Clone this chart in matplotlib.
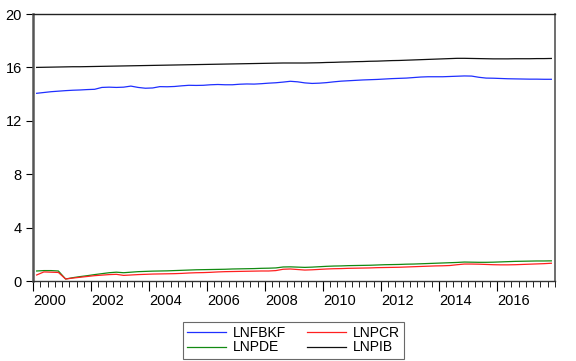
import matplotlib.pyplot as plt
import numpy as np

plt.rcParams['font.family'] = ['Liberation Sans', 'DejaVu Sans']

# quarterly observations, 2000Q1 - 2017Q4
lnpib = [16.00, 16.01, 16.02, 16.03, 16.04, 16.05, 16.05, 16.06,
         16.07, 16.08, 16.09, 16.10, 16.11, 16.12, 16.13, 16.14,
         16.15, 16.16, 16.17, 16.18, 16.19, 16.20, 16.21, 16.22,
         16.23, 16.24, 16.25, 16.26, 16.27, 16.28, 16.29, 16.30,
         16.31, 16.32, 16.33, 16.33, 16.33, 16.33, 16.34, 16.35,
         16.37, 16.38, 16.40, 16.41, 16.43, 16.44, 16.46, 16.47,
         16.49, 16.51, 16.52, 16.54, 16.56, 16.58, 16.60, 16.62,
         16.64, 16.66, 16.68, 16.68, 16.67, 16.66, 16.65, 16.64,
         16.64, 16.64, 16.65, 16.65, 16.65, 16.66, 16.66, 16.67]

lnfbkf = [14.06, 14.12, 14.18, 14.22, 14.26, 14.29, 14.31, 14.34,
          14.36, 14.50, 14.52, 14.50, 14.52, 14.60, 14.50, 14.44,
          14.46, 14.56, 14.55, 14.57, 14.62, 14.66, 14.65, 14.66,
          14.70, 14.72, 14.70, 14.70, 14.74, 14.76, 14.75, 14.78,
          14.82, 14.85, 14.90, 14.96, 14.92, 14.84, 14.80, 14.82,
          14.86, 14.92, 14.97, 15.00, 15.03, 15.06, 15.08, 15.10,
          15.13, 15.16, 15.18, 15.20, 15.24, 15.28, 15.30, 15.30,
          15.30, 15.32, 15.34, 15.36, 15.35, 15.26, 15.20, 15.19,
          15.17, 15.15, 15.14, 15.13, 15.12, 15.12, 15.11, 15.11]

lnpde = [0.75, 0.78, 0.78, 0.75, 0.15, 0.25, 0.33, 0.40,
         0.48, 0.55, 0.62, 0.66, 0.62, 0.66, 0.70, 0.72,
         0.74, 0.75, 0.76, 0.78, 0.80, 0.82, 0.84, 0.85,
         0.86, 0.87, 0.88, 0.90, 0.91, 0.92, 0.93, 0.95,
         0.96, 0.98, 1.05, 1.06, 1.04, 1.02, 1.04, 1.07,
         1.10, 1.12, 1.13, 1.15, 1.16, 1.17, 1.18, 1.20,
         1.22, 1.23, 1.24, 1.26, 1.27, 1.29, 1.31, 1.33,
         1.35, 1.37, 1.39, 1.42, 1.41, 1.40, 1.40, 1.41,
         1.43, 1.45, 1.47, 1.48, 1.49, 1.50, 1.50, 1.51]

lnpcr = [0.45, 0.68, 0.66, 0.64, 0.15, 0.22, 0.28, 0.34,
         0.40, 0.44, 0.48, 0.50, 0.42, 0.45, 0.48, 0.50,
         0.52, 0.53, 0.54, 0.55, 0.57, 0.60, 0.62, 0.63,
         0.65, 0.68, 0.70, 0.71, 0.72, 0.73, 0.74, 0.75,
         0.75, 0.78, 0.88, 0.90, 0.86, 0.82, 0.84, 0.87,
         0.90, 0.92, 0.93, 0.95, 0.96, 0.97, 0.98, 1.00,
         1.01, 1.02, 1.03, 1.05, 1.07, 1.09, 1.11, 1.13,
         1.14, 1.16, 1.22, 1.27, 1.27, 1.26, 1.24, 1.22,
         1.21, 1.21, 1.22, 1.24, 1.26, 1.28, 1.30, 1.33]

# mid-quarter positions
t = 2000 + (np.arange(len(lnpib)) + 0.5) * 0.25

fig = plt.figure(figsize=(5.76, 3.61), dpi=100)
ax = fig.add_axes([0.0573, 0.2216, 0.9062, 0.7396])

ax.plot(t, lnfbkf, color='#1f2fff', lw=0.9, label='LNFBKF')
ax.plot(t, lnpde, color='#128a12', lw=0.9, label='LNPDE')
ax.plot(t, lnpcr, color='#ff2020', lw=0.9, label='LNPCR')
ax.plot(t, lnpib, color='#101010', lw=0.9, label='LNPIB')

ax.set_xlim(2000, 2018)
ax.set_ylim(0, 20)
ax.set_yticks([0, 4, 8, 12, 16, 20])
ax.set_xticks(np.arange(2000, 2017, 2))
ax.set_xticks(np.arange(2000, 2018.01, 0.25), minor=True)
ax.set_xticklabels([str(y) for y in range(2000, 2017, 2)], ha='left')

ax.tick_params(axis='y', direction='out', length=5, width=0.8, labelsize=10.5, pad=3)
ax.tick_params(axis='x', which='major', direction='out', length=7, width=0.8, labelsize=10.5, pad=2)
ax.tick_params(axis='x', which='minor', direction='out', length=4, width=0.6)

ax.spines['left'].set_color('#555555')
ax.spines['left'].set_linewidth(1.8)
ax.spines['right'].set_color('#555555')
ax.spines['right'].set_linewidth(1.2)
ax.spines['top'].set_color('#222222')
ax.spines['top'].set_linewidth(1.0)
ax.spines['bottom'].set_color('#333333')
ax.spines['bottom'].set_linewidth(1.0)

handles, labels = ax.get_legend_handles_labels()
leg = fig.legend(handles, labels, ncol=2, loc='center', bbox_to_anchor=(0.51, 0.058),
                 fontsize=10, frameon=True, fancybox=False, edgecolor='#444444',
                 handlelength=2.8, columnspacing=1.5, labelspacing=0.05,
                 borderpad=0.3, handletextpad=0.5, borderaxespad=0)
leg.get_frame().set_linewidth(0.8)

plt.savefig('out.png', dpi=100)
